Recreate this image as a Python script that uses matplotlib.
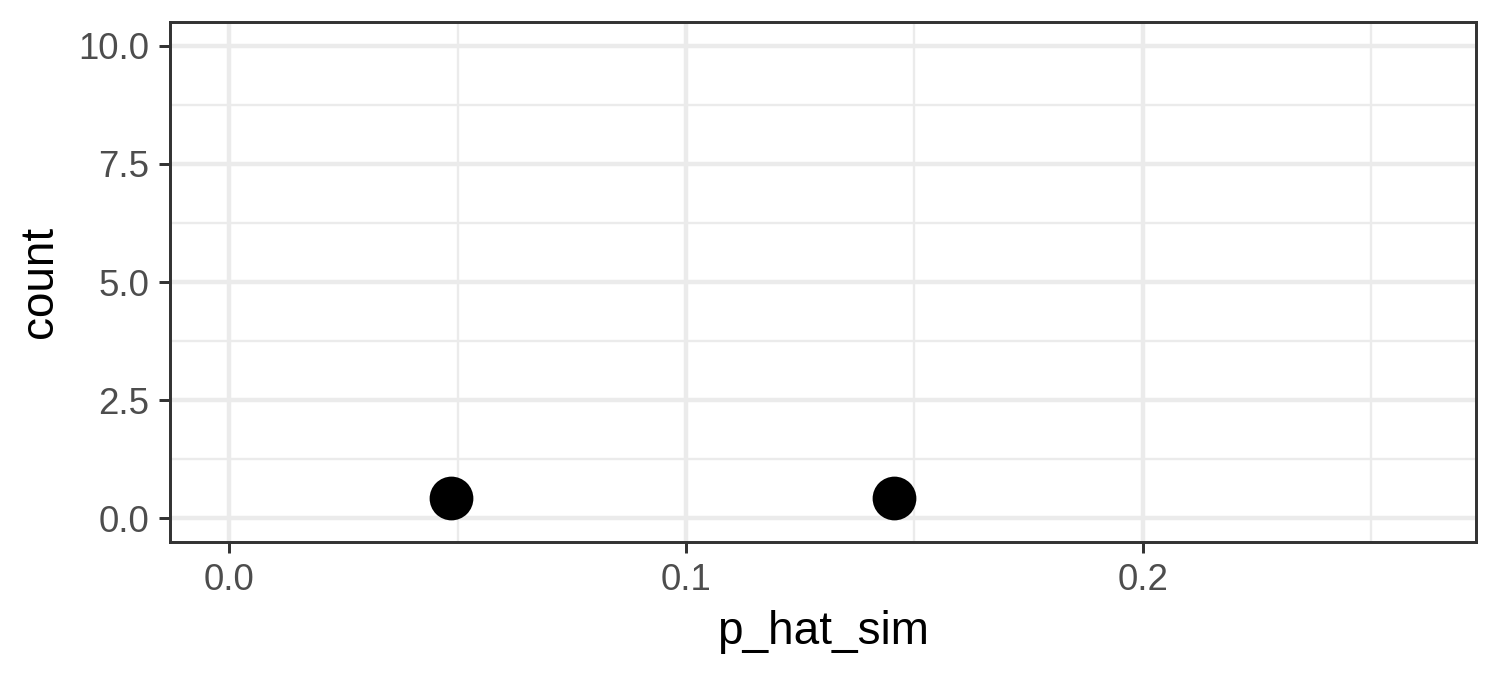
import matplotlib
matplotlib.use("Agg")
import matplotlib.pyplot as plt
from matplotlib.ticker import MultipleLocator

# values
p_hat_sim = [0.0486, 0.1455]
count_pos = [0.43, 0.43]

x_ticks = [0.0, 0.1, 0.2]
x_labels = ["0.0", "0.1", "0.2"]
y_ticks = [0.0, 2.5, 5.0, 7.5, 10.0]
y_labels = ["0.0", "2.5", "5.0", "7.5", "10.0"]

plt.rcParams['font.family'] = ['Liberation Sans', 'DejaVu Sans']

fig = plt.figure(figsize=(5, 2.25), dpi=300)
ax = fig.add_axes([0.1133, 0.197, 0.984 - 0.1133, 0.9674 - 0.197])

lw_major = 0.5 * 72.27 / 25.4
ax.set_xlim(-0.013, 0.273)
ax.set_ylim(-0.5, 10.5)
ax.set_xticks(x_ticks)
ax.set_xticklabels(x_labels)
ax.set_yticks(y_ticks)
ax.set_yticklabels(y_labels)
ax.xaxis.set_minor_locator(MultipleLocator(0.05))
ax.yaxis.set_minor_locator(MultipleLocator(1.25))

ax.grid(which='major', color='#EBEBEB', linewidth=lw_major * 0.75)
ax.grid(which='minor', color='#EBEBEB', linewidth=lw_major * 0.4)
ax.set_axisbelow(True)

ax.scatter(p_hat_sim, count_pos, s=10.5 ** 2, color='black', zorder=3, linewidths=0)

for sp in ax.spines.values():
    sp.set_color('#333333')
    sp.set_linewidth(lw_major * 0.5)

ax.tick_params(which='major', length=2.75, width=lw_major * 0.5, color='#333333',
               labelsize=8.8, labelcolor='#4D4D4D', pad=2.2)
ax.tick_params(which='minor', length=0)

ax.set_xlabel('p_hat_sim', fontsize=11, color='black', labelpad=3)
ax.set_ylabel('count', fontsize=11, color='black', labelpad=4)

fig.savefig('out.png', dpi=300)
